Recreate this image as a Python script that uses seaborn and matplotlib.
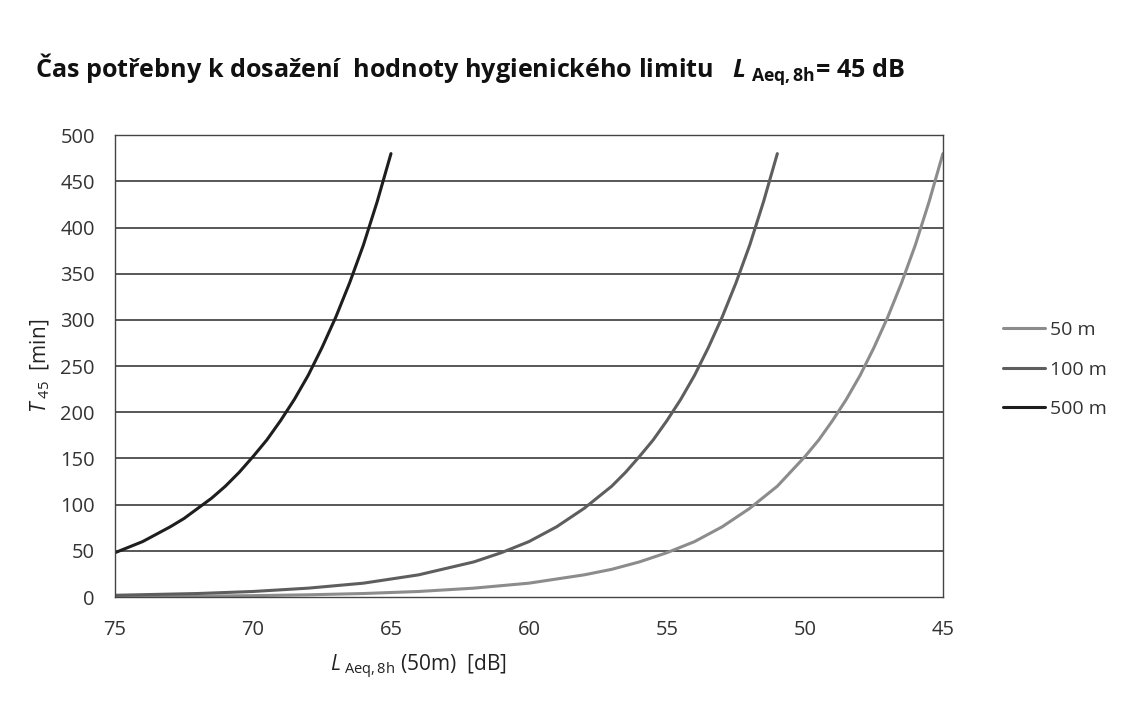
import matplotlib
matplotlib.use("Agg")
import matplotlib.pyplot as plt
import seaborn as sns
import pandas as pd

# values
x_50 = [75, 72, 70, 68, 66, 64, 62, 60, 58, 57, 56, 55, 54, 53, 52, 51, 50, 49.5, 49, 48.5, 48,
        47.5, 47, 46.5, 46, 45.5, 45]
y_50 = [0.5, 1, 1.5, 2.4, 3.8, 6, 9.6, 15, 24, 30, 38, 48, 60, 76, 96, 120, 152, 170, 191, 214, 240,
        270, 303, 340, 381, 428, 480]

x_100 = [75, 72, 70, 68, 66, 64, 62, 61, 60, 59, 58, 57, 56.5, 56, 55.5, 55, 54.5, 54, 53.5, 53,
         52.5, 52, 51.5, 51]
y_100 = [1.9, 3.8, 6, 9.6, 15, 24, 38, 48, 60, 76, 96, 120, 135, 152, 170, 191, 214, 240, 270, 303,
         340, 381, 428, 480]

x_500 = [75, 74.5, 74, 73.5, 73, 72.5, 72, 71.5, 71, 70.5, 70, 69.5, 69, 68.5, 68, 67.5, 67,
         66.5, 66, 65.5, 65]
y_500 = [48, 54, 60, 68, 76, 85, 96, 107, 120, 135, 152, 170, 191, 214, 240, 270, 303,
         340, 381, 428, 480]

labels = ["50 m", "100 m", "500 m"]
colors = ["#8c8c8c", "#5e5e5e", "#1e1e1e"]
x_ticks = [75, 70, 65, 60, 55, 50, 45]
y_ticks = [0, 50, 100, 150, 200, 250, 300, 350, 400, 450, 500]

df = pd.concat([
    pd.DataFrame({"L": x_50, "T": y_50, "dist": labels[0]}),
    pd.DataFrame({"L": x_100, "T": y_100, "dist": labels[1]}),
    pd.DataFrame({"L": x_500, "T": y_500, "dist": labels[2]}),
])

sns.set_style("white")
plt.rcParams["font.family"] = ["Open Sans", "DejaVu Sans"]
plt.rcParams["mathtext.fontset"] = "custom"
plt.rcParams["mathtext.rm"] = "Open Sans"
plt.rcParams["mathtext.it"] = "Open Sans:italic"
plt.rcParams["mathtext.bf"] = "Open Sans:bold"
plt.rcParams["mathtext.bfit"] = "Open Sans:italic:bold"

fig = plt.figure(figsize=(11.31, 7.15), dpi=100)
ax = fig.add_axes([0.1017, 0.165, 0.732, 0.646])

for yv in y_ticks[1:]:
    ax.axhline(yv, color="#2a2a2a", lw=1.1, zorder=0)

sns.lineplot(data=df, x="L", y="T", hue="dist", palette=dict(zip(labels, colors)),
             linewidth=2.2, ax=ax, legend=False, sort=False)

ax.set_xlim(75, 45)
ax.set_ylim(0, 500)
ax.set_xticks(x_ticks)
ax.set_yticks(y_ticks)
ax.tick_params(axis="both", labelsize=14.5, colors="#333333", length=5, direction="inout")
ax.tick_params(axis="x", pad=14)
ax.tick_params(axis="y", pad=12)
for s in ax.spines.values():
    s.set_color("#444444")
    s.set_linewidth(1.0)

ax.set_ylabel(r"$\mathit{T}_{\ 45}$  [min]", fontsize=15, color="#222222", labelpad=6)
ax.set_xlabel(r"$\mathit{L}_{\ \mathrm{Aeq,8h}}$ (50m)  [dB]", fontsize=15, color="#222222")
ax.xaxis.set_label_coords(0.366, -0.12)

fig.text(0.031, 0.902,
         r"Čas potřebny k dosažení  hodnoty hygienického limitu   $\mathbfit{L}_{\ \mathbf{Aeq,8h}}$= 45 dB",
         fontsize=18.1, fontweight="bold", color="#111111", va="center")

handles = [plt.Line2D([], [], color=c, lw=2.2) for c in colors]
fig.legend(handles, labels, loc="center left", bbox_to_anchor=(0.871, 0.483),
           frameon=False, fontsize=14, handlelength=2.2, labelspacing=1.1,
           handletextpad=0.25, labelcolor="#333333")

fig.savefig("out.png", dpi=100)
